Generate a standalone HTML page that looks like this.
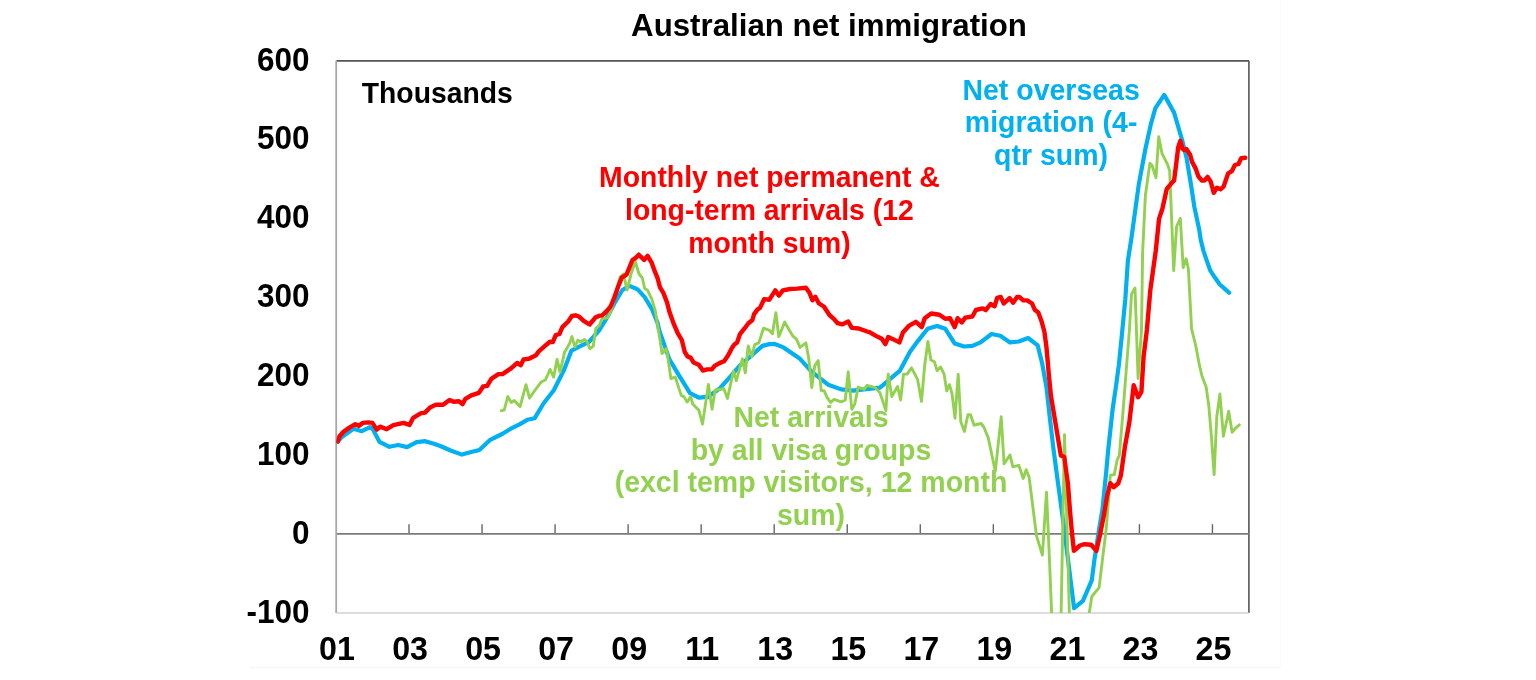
<!DOCTYPE html>
<html><head><meta charset="utf-8"><style>
html,body{margin:0;padding:0;background:#fff;width:1536px;height:680px;overflow:hidden}
svg{position:absolute;left:0;top:0;will-change:transform;filter:blur(0.3px)}
text{font-family:"Liberation Sans",sans-serif;font-weight:bold}
</style></head><body>
<svg width="1536" height="680" viewBox="0 0 1536 680">
<rect x="250" y="666.5" width="1031" height="2" fill="#f9f9f9"/>
<rect x="1280" y="0" width="1" height="667" fill="#fcfcfc"/>
<defs><clipPath id="pc"><rect x="336.4" y="60.85" width="912.5000000000001" height="552.15"/></clipPath></defs>
<g stroke="#555" stroke-width="1.6" fill="none">
<line x1="336.4" y1="60.85" x2="1248.9" y2="60.85"/>
<line x1="1248.9" y1="60.85" x2="1248.9" y2="613.0"/>
</g>
<g stroke="#666" stroke-width="1.4" fill="none">
<line x1="409.00" y1="524.2" x2="409.00" y2="533.9" /><line x1="482.04" y1="524.2" x2="482.04" y2="533.9" /><line x1="555.08" y1="524.2" x2="555.08" y2="533.9" /><line x1="628.12" y1="524.2" x2="628.12" y2="533.9" /><line x1="701.16" y1="524.2" x2="701.16" y2="533.9" /><line x1="774.20" y1="524.2" x2="774.20" y2="533.9" /><line x1="847.24" y1="524.2" x2="847.24" y2="533.9" /><line x1="920.28" y1="524.2" x2="920.28" y2="533.9" /><line x1="993.32" y1="524.2" x2="993.32" y2="533.9" /><line x1="1066.36" y1="524.2" x2="1066.36" y2="533.9" /><line x1="1139.40" y1="524.2" x2="1139.40" y2="533.9" /><line x1="1212.44" y1="524.2" x2="1212.44" y2="533.9" />
</g>
<g stroke="#7a7a7a" stroke-width="1.9" fill="none">
<line x1="336.4" y1="533.9" x2="1248.9" y2="533.9"/>
</g>
<line x1="336.2" y1="60.85" x2="336.2" y2="613.0" stroke="#a8a8a8" stroke-width="1.8"/>
<line x1="336.4" y1="613.0" x2="1248.9" y2="613.0" stroke="#d2d2d2" stroke-width="1.6"/>
<g clip-path="url(#pc)" fill="none" stroke-linejoin="round" stroke-linecap="round">
<polyline stroke="#00B0F0" stroke-width="4.2" points="337.8,441.5 341.8,437.1 353.5,428.8 361.8,431.2 370,427.1 372.9,429.4 379.4,441.8 389.4,446.8 398.2,445 407.1,447.1 416.5,442.1 425.3,441.2 434.7,444.1 440.3,446 450.6,450.5 461.9,454.6 471.2,452 479.4,450 489.7,440.2 502.1,434 512.4,427.8 520,424.1 527.4,419.7 534.7,418.2 543.5,403.5 553.8,390.3 564.1,369.7 571.5,350.6 578.8,346.9 589.1,341.8 599.4,330 605.9,319.4 615.3,301.8 622.4,290 629.4,285.9 637.6,289.4 644.7,297.1 651.8,308.8 657.6,322.9 659.1,330 669.4,359.4 678.2,374.1 690,393.2 698.8,397.6 707.6,396.9 719.4,388.8 731.2,375.6 740,365.3 751.8,355.3 762.4,345.9 769.4,344.1 774.1,343.8 783.5,347.4 800,358.8 811.8,371.8 828.2,384.7 841.2,389.4 852.9,390.6 880,387.6 900,370.6 910,351.8 918.2,340.6 927.6,328.8 937.1,325.9 945.3,328.8 954.7,343.5 964.1,346.5 972.4,345.9 980.6,342.4 991.5,334 1000.3,335.7 1010,342.4 1018.8,341.5 1028.1,338 1037.7,345.4 1042.1,363.1 1046.5,387.4 1049.9,418.2 1053.2,446.9 1057.6,480 1063.8,525.9 1068.2,561.2 1074.1,608.2 1082.9,600.9 1091.8,580.3 1094.4,560 1098.4,533.6 1102.4,509.7 1106.4,470 1108.2,450 1112.6,409.4 1116.2,384.7 1118.8,365.3 1121.5,338.8 1125.3,299.4 1127.9,260.6 1131.5,237.6 1138.8,184.3 1145.4,149 1151,123.6 1155.4,108.2 1164.2,94.9 1174.1,112.6 1182.1,140 1186.5,157.6 1190.9,184.1 1194.4,207.1 1199.3,230 1200.8,240.3 1203.4,250.6 1206.5,259.8 1210.1,270.1 1214.7,277.3 1219.8,284.5 1224,288.1 1229.1,292.8"/>
<polyline stroke="#92D050" stroke-width="2.9" points="501.3,410.6 504.2,410 507.8,396.5 511.3,402.4 514.2,400.6 520.1,406.5 526,384.7 529.5,398.2 536,388.8 541.3,381.8 545.4,380 550.1,369.4 553.6,377.1 557.1,359.4 560,372.1 564.6,352.1 566.8,348.4 569.7,343.2 571.9,336.6 574.9,346.9 577.8,340.3 580.7,341.8 584.6,339.5 587.3,342.2 589.9,348.8 593.2,346.2 595.9,328.3 599.2,325.6 601.9,319 607.8,317.7 611.8,308.4 620,277.1 623.5,274.1 627.1,290 631.2,273.5 635.3,261.2 638.8,273.5 642.4,278.2 644.7,288.5 647.6,290.3 651.8,299.1 655.3,310.9 658.4,330 662.1,353.5 666.5,348.4 670.9,378.5 675.3,377.1 681.2,395.4 684.1,396.9 687.1,402.1 690.7,396.9 692.9,404.3 698.8,410.1 702.5,424.1 708.4,384.4 712.1,409.4 715,390.3 723.8,388.8 727.5,398.4 733.4,371.2 736.3,380.7 742.4,358.8 745.3,372.9 748.2,345.9 751.8,356.5 754.7,344.7 758.8,342.9 763.5,328.2 769.4,330.3 772.4,333.8 775.9,312.6 778.8,336.8 784.7,322.1 789.4,330.3 792.9,336.2 796.5,339.1 800,347.4 805.9,342.9 808.8,358.8 811.8,387.6 814.7,365.9 818.2,360.6 821.2,390.6 824.1,390.6 827.1,397.6 830.6,402.4 834.1,399.4 841.2,401.8 845.3,400 848.2,371.8 851.8,409.4 854.7,404.1 858.2,387.1 864.1,389.4 867.1,385.3 875.3,387.6 880,392.9 885.9,410.6 888.2,374.1 891.8,396.5 897.6,386.5 900.6,400 903.5,374.1 907.1,374.1 911.5,367.9 917.6,379.4 921.5,401.4 924.7,365.3 927.9,341.5 930.9,360 934.4,361.7 937,370.6 940.6,367 944.1,374.1 946.7,390.8 949.4,384.7 952,393.5 955,418.2 958.2,374.1 960.8,421.7 964.4,431.4 967.9,414.7 970.5,414.7 974.1,425.2 981.1,423.5 983.8,427 988.2,437.6 995.3,471.2 1001.2,416.8 1004.1,463.8 1010,455 1012.9,466.8 1018.8,465.3 1023.2,478.5 1026.2,469.7 1029.1,477.1 1036.5,535.9 1042.4,555 1046.5,492.1 1049.4,558 1052.1,625 1060.9,625 1064.5,434.8 1069.7,625 1087.4,625 1091.8,596.5 1099.1,587.6 1102.4,560 1106.4,527 1110.3,475.3 1114.3,474.6 1117.1,460.2 1119.3,455.7 1123.2,409.4 1125.9,374.1 1129.4,330 1131.5,294.1 1135,287.9 1138.1,378.5 1141.5,330 1142.6,252.8 1145.4,195.3 1149.9,163.3 1152.1,165.5 1156,177.7 1158.7,136.8 1162,153.4 1167.5,164.4 1169.7,171 1173.7,270.6 1176.6,226.5 1180.3,218.4 1183.2,267.6 1186.2,258.8 1188.4,269.1 1191.6,329.1 1195.6,345 1199.6,366.2 1202.2,376.8 1206.2,387.3 1208.8,405.9 1211.5,437.6 1214.1,474.7 1216.8,416.5 1219.9,394 1223.4,436.3 1228.7,411.2 1232.1,432.3 1235.3,428.4 1239.3,424.9"/>
<polyline stroke="#FF0000" stroke-width="4.4" points="337.8,441.5 339.4,436.5 343.5,431.8 349.4,427.6 355.3,424.1 358.8,425.9 362.9,422.9 368.2,422.4 372.4,422.9 376.8,429.6 380.1,426.6 386.7,429.2 393.4,425.1 403.6,422.9 409.5,425 413.2,417.8 420.6,413.4 425,412.6 430.1,407.5 436,404.6 443.1,404.7 449.5,400 453.6,401.8 458.9,401.2 462.5,404.1 465.4,398.8 471.3,395.3 478.9,392.9 483.1,386.5 487.2,385.9 491.3,378.8 498.4,374.1 502.5,374.1 511.3,368.2 517.2,362.9 520.7,365.3 523.6,359.4 528.9,358.8 536,355.3 538.8,351.3 544.7,346.2 549.9,341.8 552.8,342.1 555.7,335.1 559.4,334 562.4,327.1 568.2,321.5 571.9,316 575.6,315.3 579.3,316.8 583.7,320.8 589.6,324.5 595.3,317.6 598.8,315.9 602.4,315.3 607.1,310.6 610.6,306.5 614.1,298.2 618.2,286.5 621.8,277.6 626.5,274.7 629.4,267.6 632.4,260 635.3,258.2 638.8,254.7 644.1,260 647.6,255.9 651.8,262.9 654.7,271.2 657.6,278.2 660,287.4 663.5,293.2 667.1,302.6 669.4,311.8 674.1,324.7 677.6,332.9 681.8,340 684.7,351.8 687.6,356.5 690.6,357.6 693.5,362.4 698.8,364.7 702.9,370.6 707.1,369.4 711.8,369.4 714.7,365.9 720,362.9 724.1,361.2 728.2,355.3 731.8,348.2 734.1,344.7 737.1,342.4 740,334.1 744.7,328.2 748.2,323.5 752.4,320 754.1,314.1 757.6,309.4 760,307.9 764.1,299.1 769.4,299.7 775.3,290.3 778.8,295.6 782.9,290.3 790,289 797,288.6 805.9,287.8 809.4,292.6 812.4,300.3 815.3,296.8 818.8,303.2 824.1,306.8 829.4,315 834.1,319.1 837.6,323.2 842.4,324.4 848.2,321.5 851.8,327.9 858.8,328.5 867.1,331.5 870,332.4 875.9,335.9 881.8,338.8 885.3,344.1 888.2,337.1 893.5,339.4 899.4,342.4 902.9,332.4 908.8,325.9 915.9,321.8 921.8,327.1 924.7,318.2 931.2,313.5 939.4,314.7 945.3,318.8 950,318.2 954.7,327.1 957.6,318.2 961.8,322.4 965.3,317.6 972.4,316.5 975.9,310 982.6,308.4 985.7,310.2 990.6,304 994.6,306.2 997.2,297.8 1000.7,296.9 1003.8,303.5 1009.6,298.2 1013.1,302.7 1017.1,296.9 1019.3,296.9 1023.2,300.4 1027.2,300.4 1032.1,303.5 1034.7,309.7 1038.3,312.4 1041.8,322.1 1044.4,331.8 1046.5,347.6 1048.8,374.1 1051,396.2 1055.4,422.7 1058.7,442.5 1060.9,455.7 1064.2,456.8 1066,470 1067.9,483.2 1069.9,509.7 1071.9,532.3 1073.9,550.8 1079.9,545.5 1084.5,544.2 1091.1,544.8 1096.4,550.8 1099.7,536.2 1103.7,516.4 1107,496.5 1110.3,483.2 1113.6,487.2 1118.3,483.2 1120.9,475.3 1124.9,446.9 1129.3,422.7 1133.7,385.2 1138.1,397.3 1141.4,391.8 1143.6,356.5 1146.9,330 1150.3,290.3 1155.8,250.6 1159.1,218.6 1162.4,208.7 1166.8,188.8 1172.4,182.2 1174.1,180.5 1176.2,164 1178.2,147.5 1180.3,140.8 1182.4,148.5 1183.9,150.1 1186.5,149.1 1190.1,154.7 1192.1,161.9 1195.7,168.6 1198.3,176.3 1201.9,180.5 1204.5,180.5 1207.6,176.9 1210.7,181.5 1213.8,192.8 1216.9,187.7 1220.5,189.2 1223.6,186.6 1228.2,173.3 1231.8,171.2 1234.9,165 1238.5,164 1241.1,158.3 1245.2,157.8"/>
</g>
<text transform="translate(829.0,36.1) scale(1,1.03)" text-anchor="middle" font-size="31.25" fill="#000">Australian net immigration</text>
<text transform="translate(309.6,70.6) scale(1,1.03)" text-anchor="end" font-size="31.5" fill="#000">600</text><text transform="translate(309.6,149.45) scale(1,1.03)" text-anchor="end" font-size="31.5" fill="#000">500</text><text transform="translate(309.6,228.3) scale(1,1.03)" text-anchor="end" font-size="31.5" fill="#000">400</text><text transform="translate(309.6,307.15) scale(1,1.03)" text-anchor="end" font-size="31.5" fill="#000">300</text><text transform="translate(309.6,386.0) scale(1,1.03)" text-anchor="end" font-size="31.5" fill="#000">200</text><text transform="translate(309.6,464.85) scale(1,1.03)" text-anchor="end" font-size="31.5" fill="#000">100</text><text transform="translate(309.6,543.7) scale(1,1.03)" text-anchor="end" font-size="31.5" fill="#000">0</text><text transform="translate(309.6,622.55) scale(1,1.03)" text-anchor="end" font-size="31.5" fill="#000">-100</text>
<text transform="translate(337.0,660.2) scale(1,1.03)" text-anchor="middle" font-size="32.2" fill="#000">01</text><text transform="translate(410.04,660.2) scale(1,1.03)" text-anchor="middle" font-size="32.2" fill="#000">03</text><text transform="translate(483.08,660.2) scale(1,1.03)" text-anchor="middle" font-size="32.2" fill="#000">05</text><text transform="translate(556.12,660.2) scale(1,1.03)" text-anchor="middle" font-size="32.2" fill="#000">07</text><text transform="translate(629.16,660.2) scale(1,1.03)" text-anchor="middle" font-size="32.2" fill="#000">09</text><text transform="translate(702.2,660.2) scale(1,1.03)" text-anchor="middle" font-size="32.2" fill="#000">11</text><text transform="translate(775.24,660.2) scale(1,1.03)" text-anchor="middle" font-size="32.2" fill="#000">13</text><text transform="translate(848.28,660.2) scale(1,1.03)" text-anchor="middle" font-size="32.2" fill="#000">15</text><text transform="translate(921.32,660.2) scale(1,1.03)" text-anchor="middle" font-size="32.2" fill="#000">17</text><text transform="translate(994.36,660.2) scale(1,1.03)" text-anchor="middle" font-size="32.2" fill="#000">19</text><text transform="translate(1067.4,660.2) scale(1,1.03)" text-anchor="middle" font-size="32.2" fill="#000">21</text><text transform="translate(1140.44,660.2) scale(1,1.03)" text-anchor="middle" font-size="32.2" fill="#000">23</text><text transform="translate(1213.48,660.2) scale(1,1.03)" text-anchor="middle" font-size="32.2" fill="#000">25</text>
<text transform="translate(361.8,103.1) scale(1,1.06)" text-anchor="start" font-size="28.3" fill="#000">Thousands</text>
<text transform="translate(769.4,187.3) scale(1,1.06)" text-anchor="middle" font-size="28.4" fill="#FF0000">Monthly net permanent &amp;</text>
<text transform="translate(769.4,219.9) scale(1,1.06)" text-anchor="middle" font-size="28.4" fill="#FF0000">long-term arrivals (12</text>
<text transform="translate(769.4,252.5) scale(1,1.06)" text-anchor="middle" font-size="28.4" fill="#FF0000">month sum)</text>
<text transform="translate(1051.1,99.5) scale(1,1.06)" text-anchor="middle" font-size="28.5" fill="#00B0F0">Net overseas</text>
<text transform="translate(1051.1,132.1) scale(1,1.06)" text-anchor="middle" font-size="28.5" fill="#00B0F0">migration (4-</text>
<text transform="translate(1051.1,164.7) scale(1,1.06)" text-anchor="middle" font-size="28.5" fill="#00B0F0">qtr sum)</text>
<text transform="translate(811,427.2) scale(1,1.06)" text-anchor="middle" font-size="28.5" fill="#92D050">Net arrivals</text>
<text transform="translate(811,459.8) scale(1,1.06)" text-anchor="middle" font-size="28.5" fill="#92D050">by all visa groups</text>
<text transform="translate(811,492.4) scale(1,1.06)" text-anchor="middle" font-size="28.5" fill="#92D050">(excl temp visitors, 12 month</text>
<text transform="translate(811,525.0) scale(1,1.06)" text-anchor="middle" font-size="28.5" fill="#92D050">sum)</text>
</svg>
</body></html>
